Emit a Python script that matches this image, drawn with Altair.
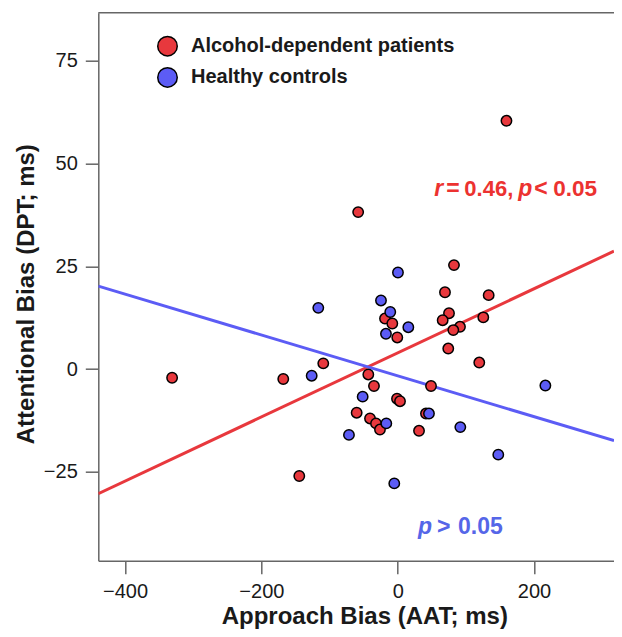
import altair as alt
import pandas as pd

# ---- data ----
red_x = [82.6, 69.4, 133.5, 75.3, 66.0, 125.6, 91.4, 81.6, 74.2, 119.7,
         -18.6, -7.9, -0.6, -109.2, -167.9, -43.1, -34.8, 48.9, -1.0, 3.4,
         -60.2, -40.6, -31.8, -26.0, 31.3, 41.5, -144.4, 159.6, -58.0, -331.0]
red_y = [25.3, 18.7, 18.0, 13.6, 11.9, 12.6, 10.3, 9.5, 5.0, 1.6,
         12.3, 11.1, 7.7, 1.4, -2.4, -1.3, -4.1, -4.1, -7.2, -7.8,
         -10.6, -12.0, -13.2, -14.7, -15.0, -10.8, -26.0, 60.4, 38.2, -2.1]
blue_x = [0.4, -116.5, -24.5, -10.9, 15.6, -17.2, -126.2, -51.4, 45.9, -16.7,
          -71.5, 91.9, 147.6, -5.0, 216.7]
blue_y = [23.5, 14.9, 16.7, 13.9, 10.2, 8.6, -1.6, -6.7, -10.8, -13.2,
          -16.0, -14.1, -20.8, -27.8, -4.0]

groups = ["Alcohol-dependent patients", "Healthy controls"]

# fitted regression lines (end points at the plot edges)
fit_x = [-439.3, 317.4]
red_fit_y = [-30.3, 28.7]
blue_fit_y = [20.2, -17.4]

x_ticks = [-400, -200, 0, 200]
y_ticks = [-25, 0, 25, 50, 75]

RED = "#E8383D"
BLUE = "#5C5CF5"
RED_TXT = "#EC3230"
BLUE_TXT = "#5566E8"
AXIS = "#666666"
TXT = "#1a1a1a"
FONT = "Liberation Sans"

W, H = 515.7, 548
x_dom = [-439.3, 317.4]
y_dom = [-46.6, 86.7]

pts = pd.DataFrame({
    "x": red_x + blue_x,
    "y": red_y + blue_y,
    "group": [groups[0]] * len(red_x) + [groups[1]] * len(blue_x),
})

xs = alt.Scale(domain=x_dom, nice=False, zero=False)
ys = alt.Scale(domain=y_dom, nice=False, zero=False)

x_axis = alt.Axis(values=x_ticks, title="Approach Bias (AAT; ms)", grid=False,
                  domainColor=AXIS, domainWidth=1.5, tickColor=AXIS, tickWidth=1.5,
                  tickSize=13, labelPadding=8, labelFontSize=20, labelColor=TXT,
                  labelFont=FONT, titleFont=FONT, titleFontSize=24, titleFontWeight="bold",
                  titleColor=TXT, titleX=266, titleY=62.3, titleBaseline="alphabetic",
                  labelFlush=False, orient="bottom")
y_axis = alt.Axis(values=y_ticks, title="Attentional Bias (DPT; ms)", grid=False,
                  domainColor=AXIS, domainWidth=1.5, tickColor=AXIS, tickWidth=1.5,
                  tickSize=13, labelPadding=8, labelFontSize=20, labelColor=TXT,
                  labelFont=FONT, titleFont=FONT, titleFontSize=24, titleFontWeight="bold",
                  titleColor=TXT, titleX=-72, titleY=281, titleBaseline="middle",
                  labelFlush=False, orient="left")


def ex():
    return alt.X("x:Q", scale=xs, axis=x_axis)


def ey():
    return alt.Y("y:Q", scale=ys, axis=y_axis)


red_line = alt.Chart(pd.DataFrame({"x": fit_x, "y": red_fit_y})).mark_line(
    color=RED, strokeWidth=3, clip=True
).encode(x=ex(), y=ey())

blue_line = alt.Chart(pd.DataFrame({"x": fit_x, "y": blue_fit_y})).mark_line(
    color=BLUE, strokeWidth=3, clip=True
).encode(x=ex(), y=ey())

points = alt.Chart(pts).mark_circle(
    size=108, opacity=1, stroke="black", strokeWidth=1.5
).encode(
    x=ex(),
    y=ey(),
    fill=alt.Fill("group:N", scale=alt.Scale(domain=groups, range=[RED, BLUE]),
                  legend=alt.Legend(title=None, orient="none", legendX=58.7, legendY=23,
                                    symbolType="circle", symbolSize=380,
                                    symbolStrokeColor="black", symbolStrokeWidth=1.5,
                                    symbolOpacity=1,
                                    labelFont=FONT, labelFontSize=20, labelFontWeight="bold",
                                    labelColor=TXT, labelOffset=13, rowPadding=4.2,
                                    labelLimit=400, padding=0)),
)

frame_top = alt.Chart(pd.DataFrame({"a": [0]})).mark_rule(
    color=AXIS, strokeWidth=1.5
).encode(x=alt.value(0), x2=alt.value(W), y=alt.value(0))

red_anchor = pd.DataFrame({"x": [50.8], "y": [42.2]})
blue_anchor = pd.DataFrame({"x": [26.1], "y": [-40.0]})


def seg(df, text, dx, color, italic, size=23):
    kw = dict(align="left", baseline="alphabetic", font=FONT, fontSize=size,
              fontWeight="bold", color=color, dx=dx, text=text)
    if italic:
        kw["fontStyle"] = "italic"
    return alt.Chart(df).mark_text(**kw).encode(x=ex(), y=ey())


ann = [
    seg(red_anchor, "r", 2, RED_TXT, True),
    seg(red_anchor, "=", 14, RED_TXT, False),
    seg(red_anchor, "0.46,", 32, RED_TXT, False, 22),
    seg(red_anchor, "p", 86, RED_TXT, True),
    seg(red_anchor, "<", 102, RED_TXT, False),
    seg(red_anchor, "0.05", 121, RED_TXT, False, 22.5),
    seg(blue_anchor, "p", 2.5, BLUE_TXT, True),
    seg(blue_anchor, ">", 21.5, BLUE_TXT, False),
    seg(blue_anchor, "0.05", 42.5, BLUE_TXT, False),
]

chart = alt.layer(red_line, blue_line, points, frame_top, *ann).properties(
    width=W, height=H,
    background="white",
    autosize=alt.AutoSizeParams(type="none"),
    padding={"left": 90.3, "top": 4.7, "right": 0, "bottom": 68.3},
).configure_view(strokeOpacity=0, strokeWidth=0)

chart.save("out.html", embed_options={"renderer": "svg", "actions": False})
